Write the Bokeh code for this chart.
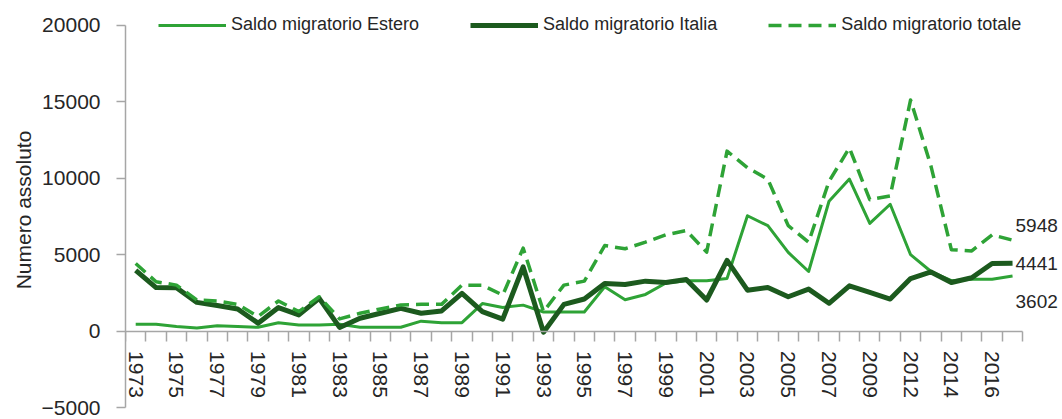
from bokeh.plotting import figure
from bokeh.models import (ColumnDataSource, Range1d, LinearAxis, FixedTicker,
                          Legend, LegendItem)
from bokeh.core.properties import value
from bokeh.embed import file_html
from bokeh.resources import INLINE

# ---------------- data ----------------
years = list(range(1973, 2011)) + list(range(2012, 2018))

estero = [450, 450, 300, 200, 350, 300, 250, 550, 400, 400,
          450, 250, 250, 250, 650, 550, 550, 1800, 1550, 1700,
          1250, 1250, 1250, 2900, 2050, 2400, 3150, 3300, 3300, 3450,
          7550, 6900, 5150, 3900, 8500, 9950, 7050, 8300, 5000, 3900,
          3300, 3400, 3400, 3602]

italia = [3980, 2850, 2840, 1880, 1670, 1450, 520, 1540, 1060, 2140,
          240, 840, 1170, 1490, 1170, 1320, 2470, 1280, 780, 4200,
          -70, 1750, 2100, 3120, 3050, 3270, 3180, 3380, 2035, 4630,
          2680, 2860, 2250, 2750, 1820, 2960, 2530, 2100, 3440, 3870,
          3180, 3490, 4420, 4441]

totale = [4420, 3230, 3010, 2040, 1970, 1750, 950, 1970, 1280, 2250,
          800, 1170, 1450, 1710, 1750, 1750, 3010, 3000, 2360, 5430,
          1280, 3010, 3270, 5600, 5390, 5820, 6300, 6580, 5170, 11780,
          10690, 9940, 6900, 5820, 9800, 11990, 8600, 8850, 15130, 10800,
          5330, 5250, 6300, 5948]

series_names = ["Saldo migratorio Estero", "Saldo migratorio Italia",
                "Saldo migratorio totale"]
y_ticks = [-5000, 0, 5000, 10000, 15000, 20000]
y_axis_title = "Numero assoluto"

# ---------------- styles ----------------
LIGHT = "#2EA336"
DARK = "#1C5A1E"
AXIS_GRAY = "#A6A6A6"
TEXT = "#262626"
FONT = "Liberation Sans"

n = len(years)
idx = list(range(n))
src = ColumnDataSource(dict(x=idx, estero=estero, italia=italia, totale=totale))

p = figure(width=1062, height=419, output_backend="svg", toolbar_location=None,
           x_range=Range1d(-0.5, 45.45), y_range=Range1d(-5785, 21636),
           x_axis_type=None, y_axis_type=None,
           min_border_left=125, min_border_right=0,
           min_border_top=0, min_border_bottom=0)
p.outline_line_color = None
p.background_fill_color = "white"
p.border_fill_color = "white"

# y axis
yax = LinearAxis(ticker=FixedTicker(ticks=y_ticks), bounds=(y_ticks[0], y_ticks[-1]))
yax.axis_line_color = AXIS_GRAY
yax.axis_line_width = 1.5
yax.major_tick_line_color = AXIS_GRAY
yax.major_tick_line_width = 1.5
yax.major_tick_in = 0
yax.major_tick_out = 9
yax.minor_tick_line_color = None
yax.major_label_standoff = 16
yax.major_label_text_font = FONT
yax.major_label_text_font_size = "21px"
yax.major_label_text_color = TEXT
yax.axis_label = y_axis_title
yax.axis_label_text_font = FONT
yax.axis_label_text_font_size = "21px"
yax.axis_label_text_font_style = "normal"
yax.axis_label_text_color = TEXT
yax.axis_label_standoff = 4
p.add_layout(yax, "left")

# x axis: tick marks at category boundaries, at y = 0
bounds_ticks = [i - 0.5 for i in range(n + 1)]
xax_ticks = LinearAxis(fixed_location=0, ticker=FixedTicker(ticks=bounds_ticks),
                       bounds=(bounds_ticks[0], bounds_ticks[-1]))
xax_ticks.axis_line_color = AXIS_GRAY
xax_ticks.axis_line_width = 1.5
xax_ticks.major_tick_line_color = AXIS_GRAY
xax_ticks.major_tick_line_width = 1.5
xax_ticks.major_tick_in = 0
xax_ticks.major_tick_out = 10
xax_ticks.minor_tick_line_color = None
xax_ticks.major_label_text_color = None
xax_ticks.major_label_text_font_size = "1px"
p.add_layout(xax_ticks, "below")

# x axis: year labels at category centres, every other category
label_pos = idx[::2]
xax_lab = LinearAxis(fixed_location=0, ticker=FixedTicker(ticks=label_pos),
                     major_label_overrides={i: str(years[i]) for i in label_pos})
xax_lab.axis_line_color = None
xax_lab.major_tick_line_color = None
xax_lab.minor_tick_line_color = None
xax_lab.major_tick_in = 0
xax_lab.major_tick_out = 0
xax_lab.major_label_orientation = "vertical"
xax_lab.major_label_standoff = 20
xax_lab.major_label_text_font = FONT
xax_lab.major_label_text_font_size = "21px"
xax_lab.major_label_text_color = TEXT
p.add_layout(xax_lab, "below")

# lines
r_est = p.line("x", "estero", source=src, line_color=LIGHT, line_width=3,
               line_join="round")
r_ita = p.line("x", "italia", source=src, line_color=DARK, line_width=5,
               line_join="round")
r_tot = p.line("x", "totale", source=src, line_color=LIGHT, line_width=3.5,
               line_dash="13 7", line_join="round")

# end labels
last = [estero[-1], italia[-1], totale[-1]]
lab_src = ColumnDataSource(dict(x=[idx[-1]] * 3, y=last,
                                text=[str(v) for v in last],
                                yoff=[25, 0, -15]))
p.text("x", "y", text="text", source=lab_src, x_offset=3, y_offset="yoff",
       text_baseline="middle", text_align="left",
       text_font=value(FONT), text_font_size="19px", text_color=TEXT)

# legend
legend = Legend(items=[LegendItem(label=series_names[0], renderers=[r_est]),
                       LegendItem(label=series_names[1], renderers=[r_ita]),
                       LegendItem(label=series_names[2], renderers=[r_tot])],
                orientation="horizontal", location=(33, 384))
legend.glyph_width = 68
legend.glyph_height = 20
legend.label_height = 20
legend.label_standoff = 5
legend.spacing = 51
legend.padding = 0
legend.margin = 0
legend.border_line_color = None
legend.background_fill_alpha = 0
legend.label_text_font = FONT
legend.label_text_font_size = "18px"
legend.label_text_color = TEXT
p.add_layout(legend, "center")

open("out.html", "w").write(file_html(p, INLINE))
